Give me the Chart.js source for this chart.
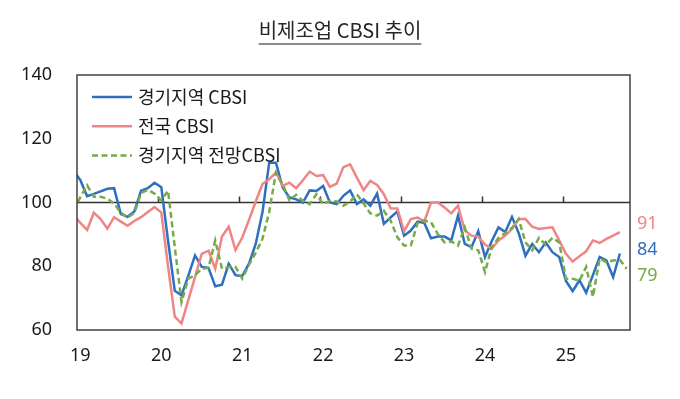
<!DOCTYPE html>
<html lang="ko">
<head>
<meta charset="utf-8">
<title>비제조업 CBSI 추이</title>
<script src="https://cdn.jsdelivr.net/npm/chart.js@4.4.1/dist/chart.umd.min.js"></script>
<style>
  html, body { margin: 0; padding: 0; background: #fff; }
</style>
</head>
<body>
<canvas id="cbsiChart" width="680" height="399"></canvas>
<script>
// 월별 자료: 18.12 ~ 25.10 (18.12는 왼쪽 끝에서 잘려 보이는 점)
const yearLabels = ['19', '20', '21', '22', '23', '24', '25'];

// 경기지역 CBSI (18.12 ~ 25.9)
const gyeonggiCbsi = [110,
  107, 102, 102.7, 103.5, 104.3, 104.5, 96.4, 95.5, 97.2, 103.7, 104.5, 106.2,
  104.8, 88, 72.3, 70.9, 77, 83.4, 79.8, 79.5, 73.7, 74.2, 80.8, 77.2,
  76.9, 80.8, 87, 96.9, 112.5, 112.5, 104.7, 101.6, 101, 100, 103.8, 103.6,
  105.2, 100, 99.5, 102.1, 103.8, 99.5, 101, 99, 102.8, 93.3, 95.3, 97.2,
  89.6, 91.2, 94, 93.6, 88.8, 89.3, 89.3, 88.1, 95.9, 87, 86, 91,
  82.9, 87.9, 92.2, 90.7, 95.5, 90.4, 83.3, 87, 84.4, 87.5, 84.4, 82.9,
  75.4, 72.2, 75.6, 71.7, 77.2, 82.9, 81.8, 76.6, 84];

// 전국 CBSI (18.12 ~ 25.9)
const nationalCbsi = [96,
  93.6, 91.4, 96.8, 94.8, 91.8, 95.4, 94, 92.7, 94.2, 95.4, 97, 98.6,
  96.9, 80, 64.2, 62.1, 69.4, 76.6, 83.9, 84.9, 79.2, 89.3, 92.4, 85.1,
  89, 94.5, 100.3, 105.8, 107.3, 109.4, 105.2, 106.2, 104.5, 107, 109.7, 108.3,
  108.6, 104.9, 105.9, 111.1, 112, 107.8, 103.9, 106.8, 105.5, 102.6, 98.2, 98.1,
  91, 94.8, 95.3, 94.1, 100, 100, 98.4, 96.6, 99, 91.2, 89.6, 89.3,
  86.8, 85.5, 88.1, 89.6, 91.7, 94.8, 94.8, 92.4, 91.7, 92, 92.2, 88.1,
  83.9, 81.5, 83.1, 84.7, 88.1, 87.3, 88.6, 89.6, 90.7];

// 경기지역 전망CBSI (18.12 ~ 25.10)
const gyeonggiOutlook = [97.5,
  101.7, 105.4, 101.8, 101.8, 101.2, 99.7, 96.8, 95.2, 96.7, 103, 104, 102.8,
  100.7, 103.7, 86, 68.8, 76.1, 77.2, 79.2, 79.5, 88.1, 79.2, 79.8, 79.8,
  76.1, 80.5, 84.2, 88.6, 97, 109.4, 105.7, 100.7, 102.4, 100.5, 99.5, 102.6,
  99.5, 100.5, 100.3, 99, 100.3, 102.6, 99.7, 96.6, 95.9, 97.4, 94.3, 89.1,
  86.5, 86.5, 93.5, 94.3, 93.8, 90.1, 87.5, 87.8, 86.5, 92.2, 85.5, 85,
  78.2, 86, 88.9, 90.4, 92, 94.8, 87.5, 85, 88.9, 86.7, 88.9, 87.5,
  76.1, 76.1, 75.4, 79.8, 70.4, 82.4, 81.3, 81.8, 82, 79.2];

const toPoints = vals => vals.map((v, i) => ({ x: i, y: v }));

const BLUE = '#2f6fbe';
const PINK = '#f08585';
const GREEN = '#77ab4a';
const DASH = [6, 3.5];

// 제목, 100 기준선, 연도 눈금, 범례, 끝값 표시
const decor = {
  id: 'decor',
  beforeDatasetsDraw(chart) {
    const { ctx, chartArea: a, scales: { x, y } } = chart;
    const y100 = y.getPixelForValue(100);
    ctx.save();
    ctx.strokeStyle = '#333';
    ctx.lineWidth = 1.5;
    ctx.beginPath();
    ctx.moveTo(a.left, y100);
    ctx.lineTo(a.right, y100);
    for (let k = 1; k < yearLabels.length; k++) {
      const px = Math.round(x.getPixelForValue(12 * k + 0.5)) + 0.5;
      ctx.moveTo(px, y100);
      ctx.lineTo(px, y100 - 6);
    }
    ctx.stroke();
    ctx.restore();
  },
  afterDraw(chart) {
    const { ctx, chartArea: a, scales: { y } } = chart;
    ctx.save();

    // 테두리
    ctx.strokeStyle = '#404040';
    ctx.lineWidth = 1.5;
    ctx.strokeRect(a.left, a.top, a.right - a.left, a.bottom - a.top);

    // 제목 + 밑줄
    const title = '비제조업 CBSI 추이';
    ctx.font = '20px "Noto Sans CJK KR"';
    ctx.fillStyle = '#262626';
    ctx.textAlign = 'center';
    ctx.textBaseline = 'alphabetic';
    const cx = chart.width / 2;
    ctx.fillText(title, cx, 38);
    const w = ctx.measureText(title).width;
    ctx.strokeStyle = '#666';
    ctx.lineWidth = 1.5;
    ctx.beginPath();
    ctx.moveTo(cx - w / 2, 44);
    ctx.lineTo(cx + w / 2, 44);
    ctx.stroke();

    // 범례
    ctx.textAlign = 'left';
    ctx.textBaseline = 'middle';
    ctx.font = '18px "Noto Sans CJK KR"';
    chart.data.datasets.forEach((ds, i) => {
      const ly = 97 + i * 29.2;
      ctx.strokeStyle = ds.borderColor;
      ctx.lineWidth = 2.5;
      ctx.setLineDash(ds.borderDash || []);
      ctx.beginPath();
      ctx.moveTo(a.left + 15, ly);
      ctx.lineTo(a.left + 55, ly);
      ctx.stroke();
      ctx.setLineDash([]);
      ctx.fillStyle = '#1a1a1a';
      ctx.fillText(ds.label, a.left + 61, ly);
    });

    // 끝값
    const shift = [-4, -8, 7];
    ctx.font = '18px "Noto Sans"';
    chart.data.datasets.forEach((ds, i) => {
      const last = ds.data[ds.data.length - 1].y;
      ctx.fillStyle = ds.borderColor;
      ctx.fillText(String(Math.round(last)), a.right + 7, y.getPixelForValue(last) + shift[i]);
    });
    ctx.restore();
  }
};

const tickFont = { family: '"Noto Sans"', size: 18 };

new Chart(document.getElementById('cbsiChart'), {
  type: 'line',
  data: {
    datasets: [{
      label: '경기지역 CBSI',
      data: toPoints(gyeonggiCbsi),
      borderColor: BLUE,
      order: 2
    }, {
      label: '전국 CBSI',
      data: toPoints(nationalCbsi),
      borderColor: PINK,
      order: 1
    }, {
      label: '경기지역 전망CBSI',
      data: toPoints(gyeonggiOutlook),
      borderColor: GREEN,
      borderDash: DASH,
      order: 0
    }]
  },
  options: {
    responsive: false,
    animation: false,
    clip: 0,
    elements: {
      line: { borderWidth: 2.5, tension: 0, fill: false },
      point: { radius: 0 }
    },
    layout: { padding: { top: 75, right: 50, left: 0, bottom: 0 } },
    scales: {
      x: {
        type: 'linear',
        min: 0.5,
        max: 82.5,
        grid: { display: false, drawTicks: false },
        border: { display: false },
        afterBuildTicks: axis => {
          axis.ticks = yearLabels.map((_, k) => ({ value: 1 + 12 * k }));
        },
        afterFit: scale => { scale.height = 69; },
        ticks: {
          autoSkip: false,
          maxRotation: 0,
          padding: 15,
          color: '#1a1a1a',
          font: tickFont,
          callback: v => yearLabels[(v - 1) / 12]
        }
      },
      y: {
        min: 60,
        max: 140,
        grid: { display: false, drawTicks: false },
        border: { display: false },
        afterFit: scale => { scale.width = 77; },
        ticks: {
          stepSize: 20,
          padding: 25,
          color: '#1a1a1a',
          font: tickFont
        }
      }
    },
    plugins: {
      legend: { display: false },
      tooltip: { enabled: false }
    }
  },
  plugins: [decor]
});
</script>
</body>
</html>
